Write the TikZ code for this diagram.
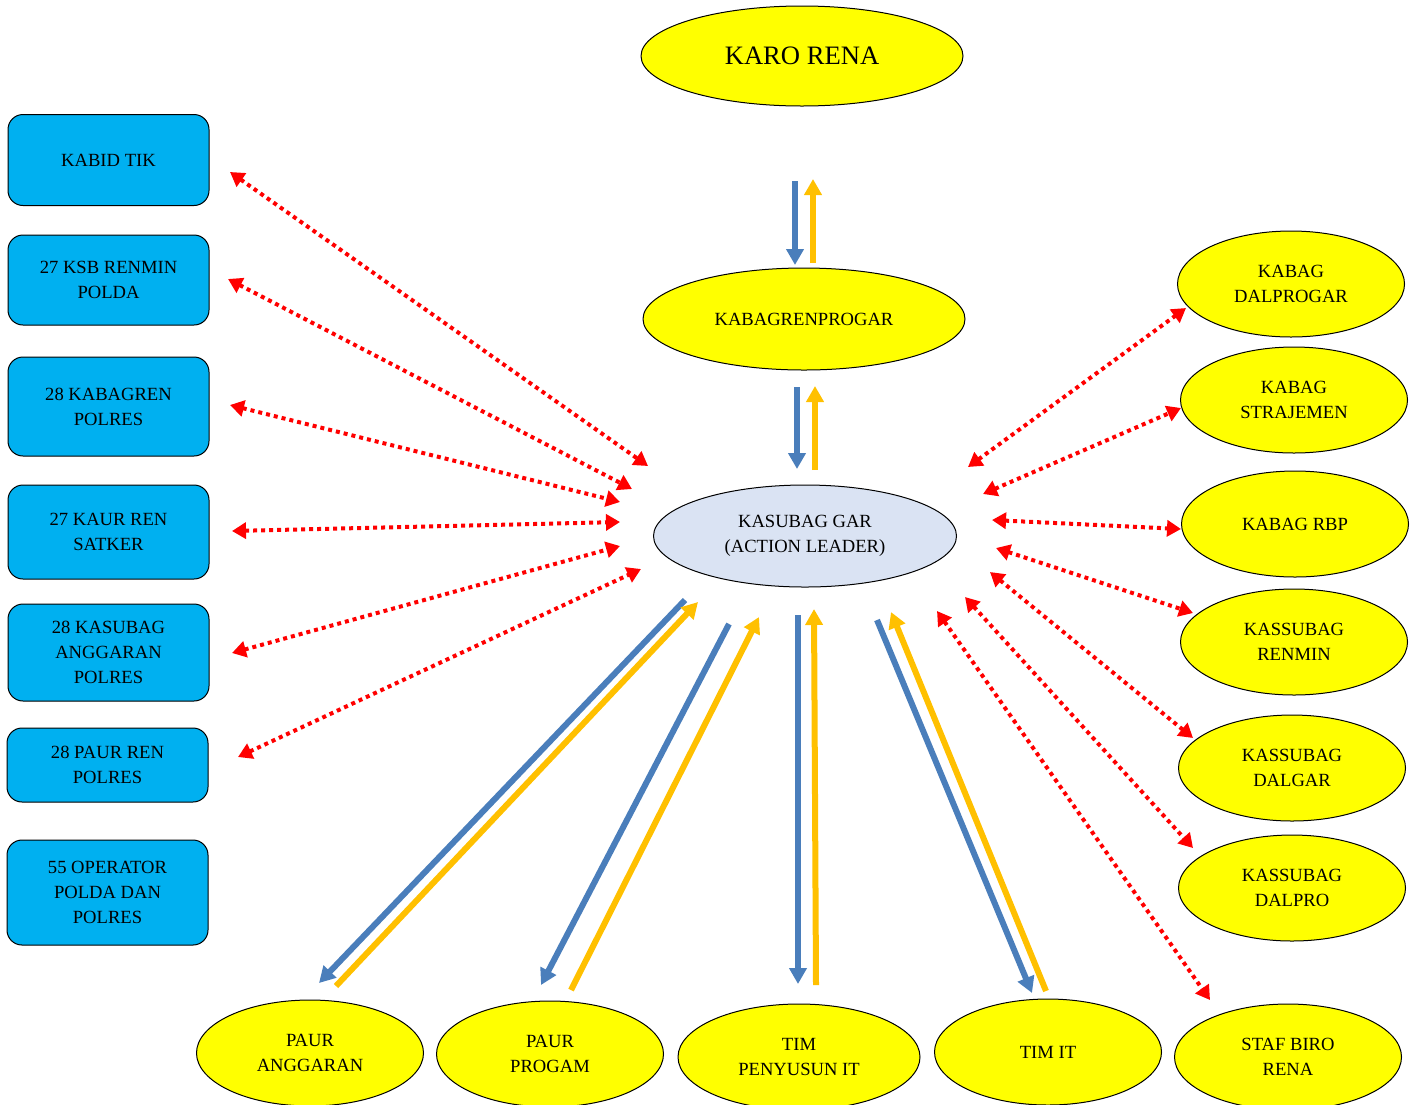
\documentclass[tikz,border=0pt]{standalone}
\usepackage{fontspec}
\setmainfont{Liberation Serif}
\usetikzlibrary{shapes.geometric,arrows.meta}
\definecolor{boxblue}{HTML}{00B0F0}
\definecolor{ellyellow}{HTML}{FFFF00}
\definecolor{leadfill}{HTML}{DAE3F3}
\definecolor{arrblue}{HTML}{4A7EBB}
\definecolor{arryellow}{HTML}{FFC000}
\definecolor{arrred}{HTML}{FF0000}
\tikzset{
  lbox/.style={draw=black, line width=0.5pt, fill=boxblue, rounded corners=7.5pt,
    minimum width=100.5pt, inner sep=0pt, align=center,
    font=\fontsize{9.3}{12.5}\selectfont},
  yell/.style={ellipse, draw=black, line width=0.5pt, fill=ellyellow, inner sep=0pt,
    minimum width=113.5pt, minimum height=53pt, align=center,
    font=\fontsize{9.3}{12.5}\selectfont},
  reddbl/.style={draw=arrred, line width=2pt, dash pattern=on 2pt off 2pt,
    {Triangle[length=7pt,width=8pt]}-{Triangle[length=7pt,width=8pt]}},
  bluearr/.style={draw=arrblue, line width=3pt, -{Triangle[length=8pt,width=8.5pt]}},
  yelarr/.style={draw=arryellow, line width=3pt, -{Triangle[length=8pt,width=8.5pt]}},
}
\begin{document}
\begin{tikzpicture}[x=0.5pt,y=-0.5pt]
\useasboundingbox (0,0) rectangle (1416,1104);

% central ellipses
\node[yell, minimum width=161pt, minimum height=50pt, font=\fontsize{13.3}{16}\selectfont] (karo) at (802,56) {KARO RENA};
\node[yell, minimum width=161pt, minimum height=51pt] (kabagren) at (804,319) {KABAGRENPROGAR};
\node[ellipse, draw=black, line width=0.5pt, fill=leadfill, inner sep=0pt,
  minimum width=151.5pt, minimum height=51pt, align=center,
  font=\fontsize{9.3}{12.5}\selectfont] (lead) at (805,536) {KASUBAG GAR\\(ACTION LEADER)};

% left boxes
\node[lbox, minimum height=45.5pt] (b1) at (108.5,160) {KABID TIK};
\node[lbox, minimum height=45pt] (b2) at (108.5,280) {27 KSB RENMIN\\POLDA};
\node[lbox, minimum height=49.5pt] (b3) at (108.5,406.5) {28 KABAGREN\\POLRES};
\node[lbox, minimum height=47pt] (b4) at (108.5,532) {27 KAUR REN\\SATKER};
\node[lbox, minimum height=48.5pt] (b5) at (108.5,652.5) {28 KASUBAG\\ANGGARAN\\POLRES};
\node[lbox, minimum height=37pt] (b6) at (107.5,765) {28 PAUR REN\\POLRES};
\node[lbox, minimum height=52.5pt] (b7) at (107.5,892.5) {55 OPERATOR\\POLDA DAN\\POLRES};

% right ellipses
\node[yell] (r1) at (1291,284) {KABAG\\DALPROGAR};
\node[yell] (r2) at (1294,400) {KABAG\\STRAJEMEN};
\node[yell] (r3) at (1295,524) {KABAG RBP};
\node[yell] (r4) at (1294,642) {KASSUBAG\\RENMIN};
\node[yell] (r5) at (1292,768) {KASSUBAG\\DALGAR};
\node[yell] (r6) at (1292,888) {KASSUBAG\\DALPRO};

% bottom ellipses
\node[yell] (p1) at (310,1053) {PAUR\\ANGGARAN};
\node[yell] (p2) at (550,1054) {PAUR\\PROGAM};
\node[yell, minimum width=121pt] (p3) at (799,1057) {TIM\\PENYUSUN IT};
\node[yell] (p4) at (1048,1052) {TIM IT};
\node[yell] (p5) at (1288,1057) {STAF BIRO\\RENA};

% coordinates for arrow ends
\coordinate (lA1) at (230,172);  \coordinate (lB1) at (648,466);
\coordinate (lA2) at (228,279);  \coordinate (lB2) at (632,489);
\coordinate (lA3) at (230,405);  \coordinate (lB3) at (620,502);
\coordinate (lA4) at (232,531);  \coordinate (lB4) at (620,522);
\coordinate (lA5) at (232,653);  \coordinate (lB5) at (620,546);
\coordinate (lA6) at (238,757);  \coordinate (lB6) at (641,569);

\coordinate (rA1) at (968,467);  \coordinate (rB1) at (1186,308);
\coordinate (rA2) at (983,494);  \coordinate (rB2) at (1181,408);
\coordinate (rA3) at (992,520);  \coordinate (rB3) at (1181,529);
\coordinate (rA4) at (996,548);  \coordinate (rB4) at (1193,613);
\coordinate (rA5) at (990,572);  \coordinate (rB5) at (1193,738);
\coordinate (rA6) at (965,597);  \coordinate (rB6) at (1193,848);
\coordinate (rA7) at (937,611);  \coordinate (rB7) at (1210,1000);

\foreach \i in {1,...,6} {\draw[reddbl] (lA\i) -- (lB\i);}
\foreach \i in {1,...,7} {\draw[reddbl] (rA\i) -- (rB\i);}

% top pair
\coordinate (t1a) at (795,181); \coordinate (t1b) at (795,265);
\coordinate (t2a) at (813,263); \coordinate (t2b) at (813,179);
\draw[bluearr] (t1a) -- (t1b);
\draw[yelarr] (t2a) -- (t2b);
% middle pair
\coordinate (m1a) at (797,387); \coordinate (m1b) at (797,469);
\coordinate (m2a) at (815,470); \coordinate (m2b) at (815,386);
\draw[bluearr] (m1a) -- (m1b);
\draw[yelarr] (m2a) -- (m2b);
% bottom pairs
\coordinate (q1a) at (685,600); \coordinate (q1b) at (319,983);
\coordinate (q2a) at (336,986); \coordinate (q2b) at (698,602);
\coordinate (q3a) at (729,624); \coordinate (q3b) at (541,985);
\coordinate (q4a) at (571,990); \coordinate (q4b) at (759,617);
\coordinate (q5a) at (798,615); \coordinate (q5b) at (798,984);
\coordinate (q6a) at (816,985); \coordinate (q6b) at (814,609);
\coordinate (q7a) at (877,620); \coordinate (q7b) at (1032,993);
\coordinate (q8a) at (1046,991); \coordinate (q8b) at (891,612);
\draw[bluearr] (q1a) -- (q1b);
\draw[yelarr] (q2a) -- (q2b);
\draw[bluearr] (q3a) -- (q3b);
\draw[yelarr] (q4a) -- (q4b);
\draw[bluearr] (q5a) -- (q5b);
\draw[yelarr] (q6a) -- (q6b);
\draw[bluearr] (q7a) -- (q7b);
\draw[yelarr] (q8a) -- (q8b);
\end{tikzpicture}
\end{document}
